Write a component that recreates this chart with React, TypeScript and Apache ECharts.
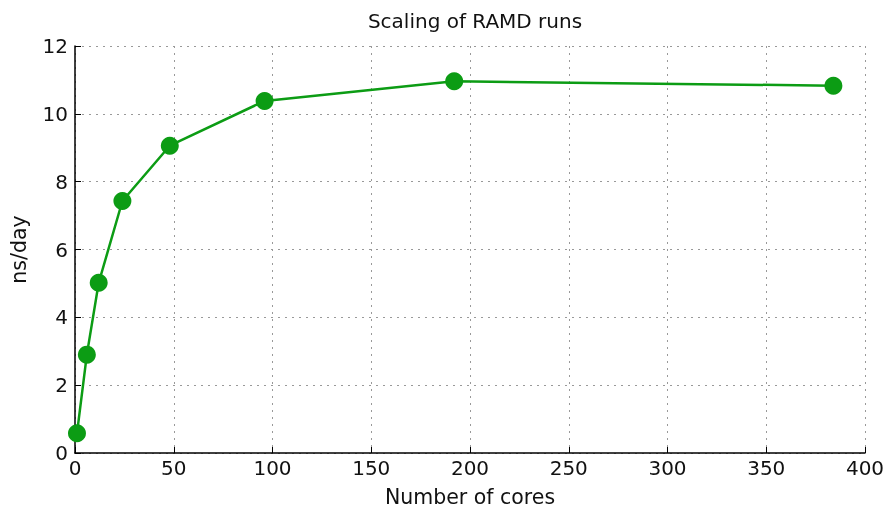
import React, { useEffect, useRef } from "react";
import * as echarts from "echarts";

const cores = [1, 6, 12, 24, 48, 96, 192, 384];
const nsPerDay = [0.58, 2.9, 5.02, 7.43, 9.06, 10.38, 10.96, 10.83];
const xTicks = [0, 400, 50];
const yTicks = [0, 12, 2];

export default function App() {
  const ref = useRef<HTMLDivElement>(null);
  useEffect(() => {
    const chart = echarts.init(ref.current!, null, { renderer: "svg" });
    const font = "DejaVu Sans";
    const grid = { type: [2, 5], color: "#999", width: 1 };
    chart.setOption({
      animation: false,
      textStyle: { fontFamily: font },
      title: {
        text: "Scaling of RAMD runs",
        left: 470,
        top: 6,
        textAlign: "center",
        textStyle: { fontFamily: font, fontSize: 20, fontWeight: "normal", color: "#111" },
      },
      grid: {
        left: 75,
        right: 24,
        top: 46,
        bottom: 56,
        containLabel: false,
        outerBoundsMode: "none",
      },
      xAxis: {
        type: "value",
        min: xTicks[0],
        max: xTicks[1],
        interval: xTicks[2],
        name: "Number of cores",
        nameLocation: "middle",
        nameGap: 35,
        nameTextStyle: { fontFamily: font, fontSize: 20.5, color: "#111", lineHeight: 18 },
        axisLine: { show: true, lineStyle: { color: "#000", width: 1.5 } },
        axisTick: { show: true, inside: true, length: 6, lineStyle: { color: "#000" } },
        axisLabel: { fontFamily: font, fontSize: 20, color: "#111", margin: 5 },
        splitLine: { show: true, lineStyle: grid },
      },
      yAxis: {
        type: "value",
        min: yTicks[0],
        max: yTicks[1],
        interval: yTicks[2],
        name: "ns/day",
        nameLocation: "middle",
        nameGap: 46,
        nameTextStyle: { fontFamily: font, fontSize: 20.5, color: "#111" },
        axisLine: { show: true, lineStyle: { color: "#000", width: 1.5 } },
        axisTick: { show: true, inside: true, length: 6, lineStyle: { color: "#000" } },
        axisLabel: { fontFamily: font, fontSize: 20, color: "#111", margin: 7 },
        splitLine: { show: true, lineStyle: grid },
      },
      series: [
        {
          type: "line",
          data: cores.map((c, i) => [c, nsPerDay[i]]),
          symbol: "circle",
          symbolSize: 18,
          itemStyle: { color: "#0c9c14" },
          lineStyle: { color: "#0c9c14", width: 2.5 },
        },
      ],
    });
    return () => chart.dispose();
  }, []);
  return (
    <div
      ref={ref}
      style={{ position: "fixed", left: 0, top: 0, width: 889, height: 509 }}
    />
  );
}
